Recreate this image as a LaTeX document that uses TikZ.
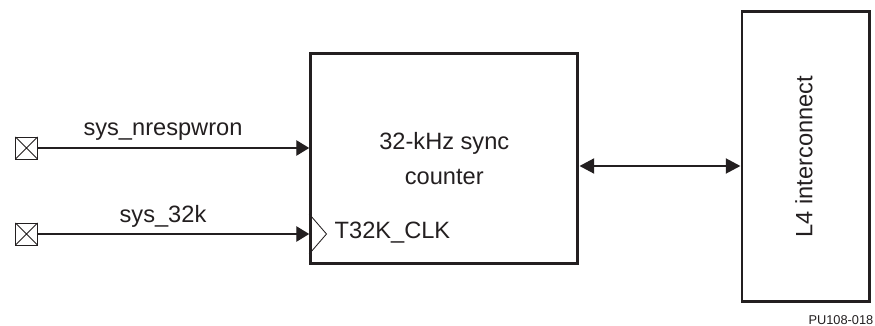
\documentclass[tikz,border=0pt]{standalone}
\usepackage{fontspec}
\setmainfont{Liberation Sans}
\usetikzlibrary{arrows.meta}
\definecolor{ink}{HTML}{231F20}

\begin{document}
\begin{tikzpicture}[x=0.025cm,y=-0.025cm,line width=1pt,>=Stealth,color=ink]
\tikzset{blk/.style={draw,line width=2.1pt,inner sep=0pt},
  txt/.style={font=\fontsize{16.8}{24.8}\selectfont,inner sep=0pt},
  pin/.style={draw,line width=0.6pt,minimum size=0.55cm,inner sep=0pt,
    path picture={\draw[line width=0.6pt] (path picture bounding box.north west) -- (path picture bounding box.south east)
      (path picture bounding box.south west) -- (path picture bounding box.north east);}},
  sig/.style={line width=1pt,-{Triangle[length=9.2pt,width=11pt]}},
  bus/.style={line width=2pt,{Triangle[length=10.5pt,width=10.5pt]}-{Triangle[length=10.5pt,width=10.5pt]}}}
\useasboundingbox (0,0) rectangle (875,326);
% ================= blocks =================
\node[blk,minimum width=6.68cm,minimum height=5.225cm,txt,align=center] (counter) at (444.3,158.5) {32-kHz sync\\counter};
\node[blk,minimum width=3.175cm,minimum height=7.225cm] (l4) at (805.5,156.5) {};
\node[txt,rotate=90] (l4txt) at (804,156.5) {L4 interconnect};
\node[txt,anchor=west] (clktxt) at (334,233) {T32K\_CLK};
% ---------- input pins ----------
\node[pin] (pinrst) at (26.5,148) {};
\node[pin] (pinclk) at (26.5,234) {};
\draw[sig] (pinrst.east) -- (pinrst -| counter.west);
\draw[sig] (pinclk.east) -- (pinclk -| counter.west);
\node[txt,anchor=base] (rsttxt) at (163,136) {sys\_nrespwron};
\node[txt,anchor=base] (k32txt) at (163,223) {sys\_32k};
% clock edge marker
\draw[line width=0.6pt] (pinclk -| counter.west) ++(0,-20) -- ++(17.3,20) -- ++(-17.3,20);
% ---------- bus to interconnect ----------
\coordinate (busy) at (660,166);
\draw[bus] (counter.east |- busy) -- (l4.west |- busy);
% figure id
\node[font=\fontsize{9.1}{11}\selectfont,inner sep=0pt,anchor=base east] (figid) at (874,325) {PU108-018};
\end{tikzpicture}
\end{document}
